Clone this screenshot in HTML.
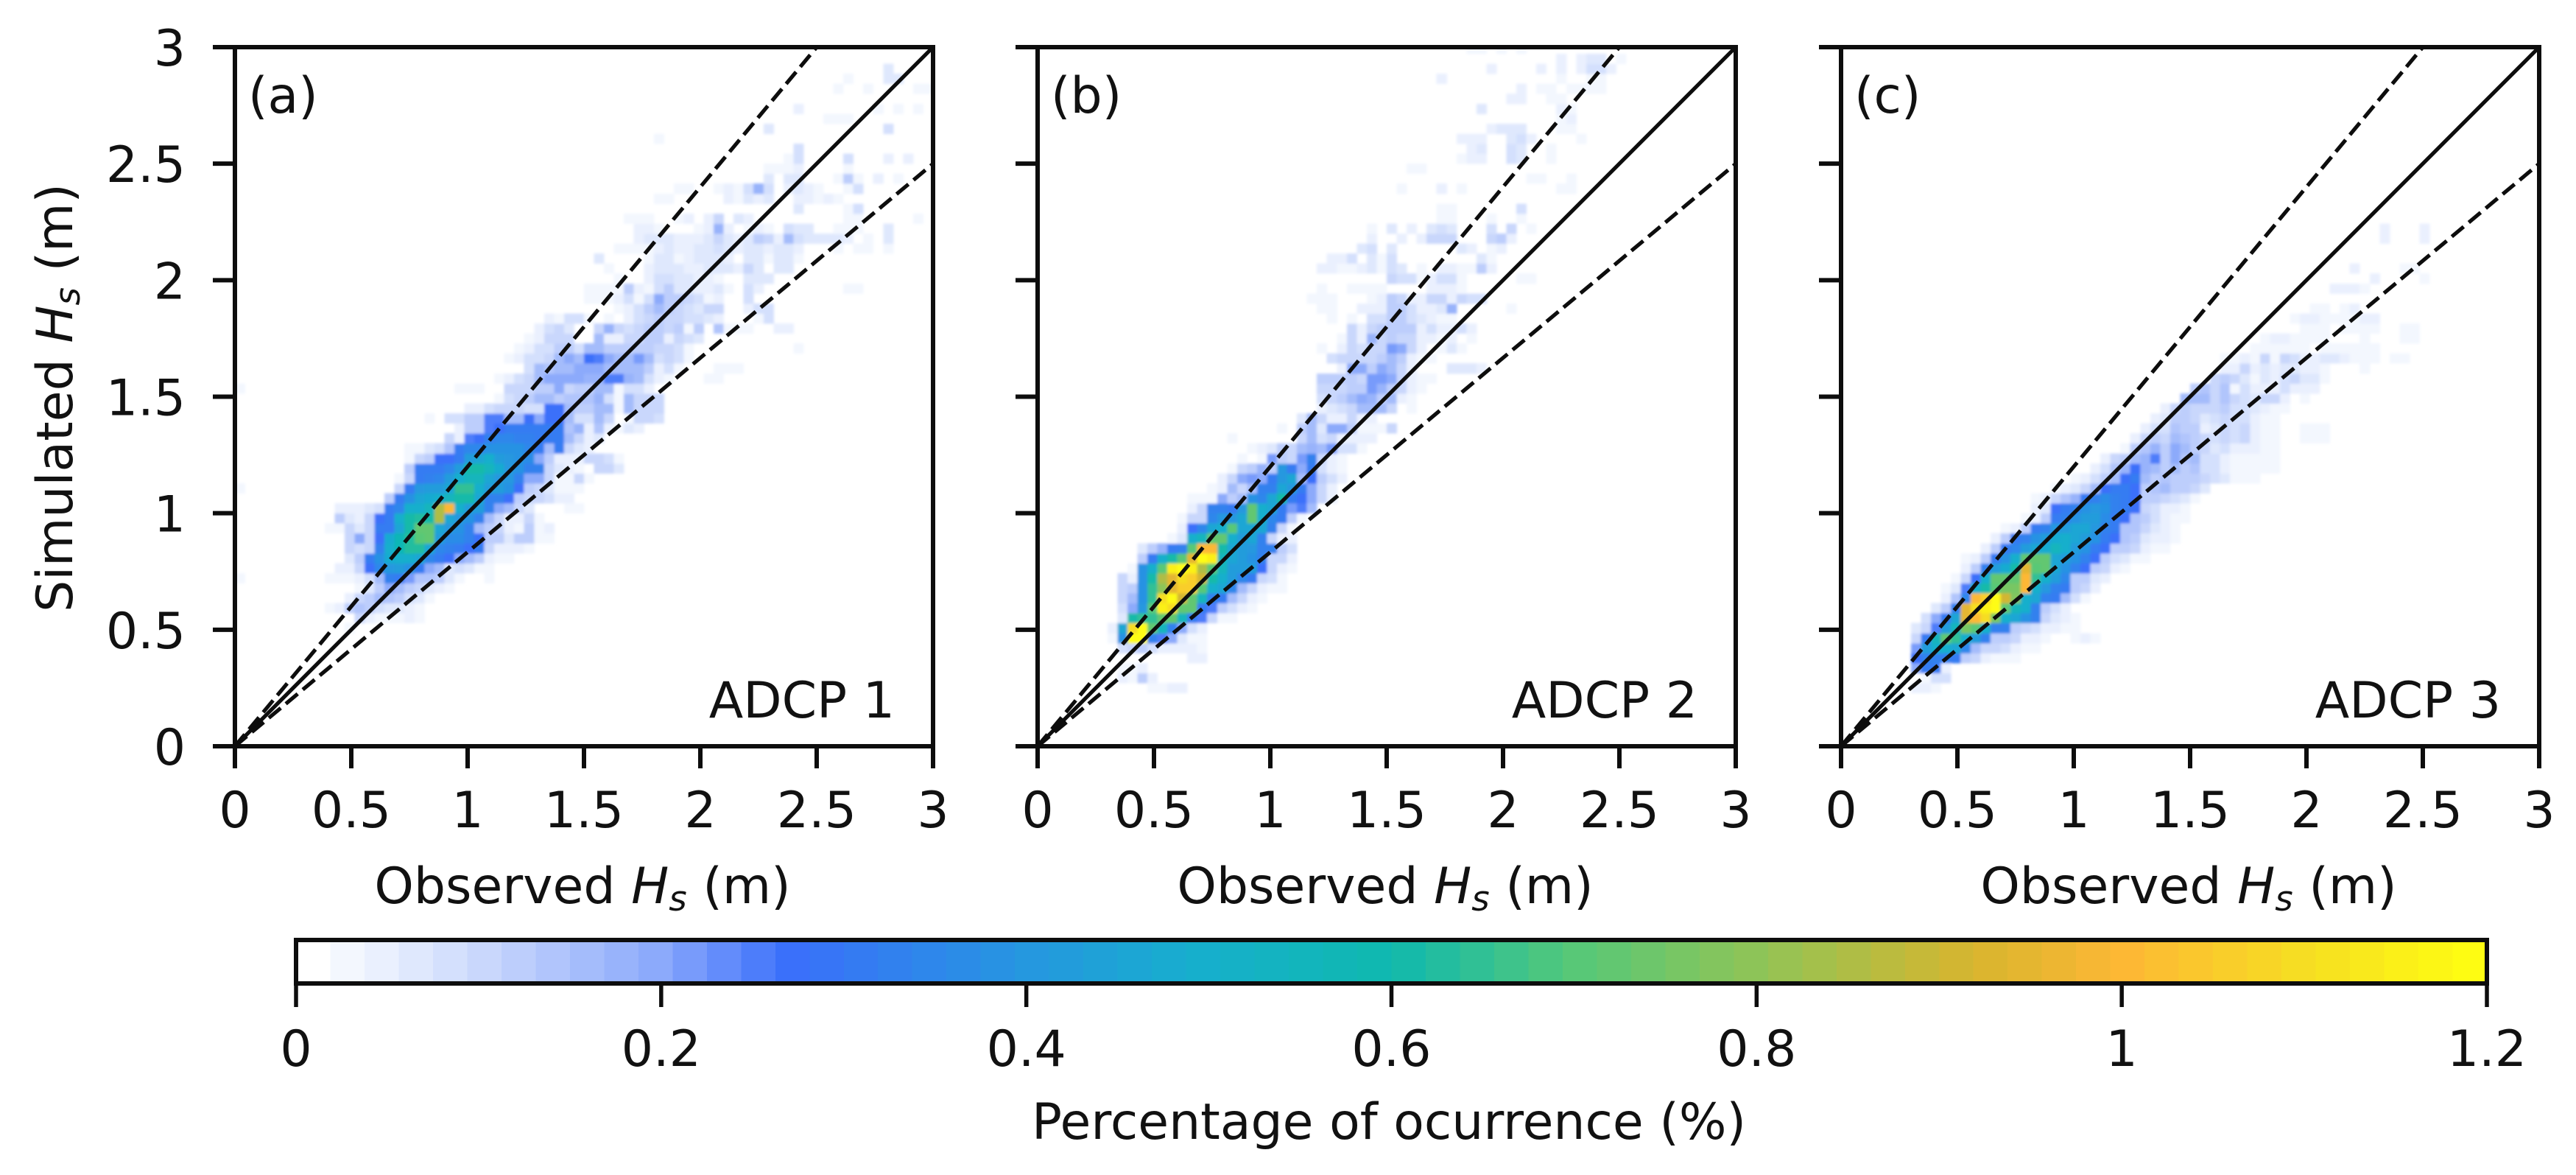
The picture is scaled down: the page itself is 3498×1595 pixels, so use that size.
<!DOCTYPE html>
<html lang="en">
<head>
<meta charset="utf-8">
<title>Observed vs simulated Hs at three ADCPs</title>
<style>
html,body{margin:0;padding:0;background:#fff;}
svg{display:block;}
text{font-family:"DejaVu Sans","Liberation Sans",sans-serif;fill:#111;}
</style>
</head>
<body>
<svg id="figure" xmlns="http://www.w3.org/2000/svg" width="3498" height="1595" viewBox="0 0 3498 1595">
<defs><filter id="softCells" x="-5%" y="-5%" width="110%" height="110%"><feGaussianBlur stdDeviation="1.8"/></filter></defs>
</svg>
<script>
// ---------- chart values ----------
const axisMax = 3;
const binCount = 70;
const axisTicks = [0, 0.5, 1, 1.5, 2, 2.5, 3];
const axisTickLabels = ['0', '0.5', '1', '1.5', '2', '2.5', '3'];
const colorbarTicks = [0, 0.2, 0.4, 0.6, 0.8, 1, 1.2];
const colorbarTickLabels = ['0', '0.2', '0.4', '0.6', '0.8', '1', '1.2'];
const colorbarMax = 1.2;
const colorLevels = 64;
const referenceSlopes = [1, 1.2, 0.8333];
const panelTags = ['(a)', '(b)', '(c)'];
const panelNames = ['ADCP 1', 'ADCP 2', 'ADCP 3'];
const colorStopValues = [0, 0.04, 0.1, 0.2, 0.27, 0.4, 0.5, 0.6, 0.7, 0.8, 0.92, 1.0, 1.1, 1.2];
const colorStopHexes = ['#ffffff', '#eef3fe', '#cbd9fc', '#8aa8fb', '#3a6ffa', '#2597e0', '#16b0cb', '#0fb9ae', '#56c878', '#8fc457', '#d8b52e', '#fdb735', '#f6de22', '#ffff10'];

// Each row: observed-bin pairs for one simulated-bin row -> [rowBin, colBin, percent, colBin, percent, ...]
const adcp1Rows = [
[11,11,.03],
[12,12,.1,13,.05,14,.02,15,.02,16,.03,17,.04,18,.02],
[13,9,.03,10,.05,11,.12,12,.14,13,.12,14,.08,15,.07,16,.07,17,.05,18,.03],
[14,11,.05,12,.1,13,.12,14,.16,15,.14,16,.12,17,.08,18,.06,19,.03],
[15,12,.03,13,.06,14,.12,15,.2,16,.16,17,.12,18,.1,19,.06,20,.05,21,.02],
[16,0,.02,9,.03,10,.03,11,.02,12,.04,13,.08,14,.15,15,.32,16,.3,17,.22,18,.14,19,.14,20,.12,21,.06,22,.02,25,.03],
[17,10,.05,11,.05,12,.1,13,.28,14,.34,15,.4,16,.42,17,.38,18,.3,19,.2,20,.16,21,.06,22,.08,23,.06,24,.03,25,.02],
[18,11,.06,12,.12,13,.3,14,.38,15,.48,16,.5,17,.5,18,.45,19,.35,20,.3,21,.28,22,.2,23,.16,24,.12,25,.04,26,.03,27,.02],
[19,11,.1,12,.08,13,.1,14,.33,15,.5,16,.58,17,.62,18,.62,19,.45,20,.35,21,.33,22,.3,23,.28,24,.3,25,.1,26,.05,27,.04,28,.05,29,.03],
[20,11,.1,12,.2,13,.1,14,.28,15,.48,16,.58,17,.62,18,.7,19,.72,20,.42,21,.36,22,.36,23,.33,24,.28,25,.12,26,.12,27,.06,28,.12,29,.13,30,.03,31,.03],
[21,9,.02,10,.03,11,.1,12,.06,13,.1,14,.3,15,.3,16,.45,17,.6,18,.72,19,.72,20,.45,21,.4,22,.38,23,.32,24,.15,25,.12,26,.1,27,.05,28,.03,29,.13,30,.02,31,.04],
[22,10,.12,11,.07,12,.04,13,.1,14,.28,15,.3,16,.5,17,.6,18,.62,19,.6,20,.85,21,.45,22,.4,23,.38,24,.32,25,.15,26,.1,27,.05,28,.05,29,.1,30,.02],
[23,10,.05,11,.05,12,.05,13,.06,14,.08,15,.3,16,.35,17,.5,18,.5,19,.55,20,.85,21,1.0,22,.5,23,.42,24,.42,25,.33,26,.2,27,.15,28,.1,29,.06,33,.03,34,.03],
[24,15,.12,16,.3,17,.38,18,.45,19,.48,20,.5,21,.55,22,.6,23,.6,24,.45,25,.33,26,.33,27,.28,28,.13,29,.1,30,.1,31,.08,32,.05,33,.05],
[25,0,.03,16,.1,17,.3,18,.4,19,.42,20,.42,21,.45,22,.65,23,.65,24,.5,25,.42,26,.42,27,.38,28,.28,29,.12,30,.1,31,.07,32,.03,33,.02,34,.02],
[26,16,.03,17,.1,18,.3,19,.33,20,.35,21,.42,22,.5,23,.55,24,.55,25,.45,26,.4,27,.4,28,.33,29,.2,30,.2,31,.1,32,.03,33,.03,34,.1,35,.03],
[27,17,.12,18,.3,19,.3,20,.3,21,.35,22,.42,23,.6,24,.6,25,.55,26,.48,27,.4,28,.38,29,.33,30,.33,31,.1,32,.07,33,.05,34,.03,36,.1,37,.1,38,.06],
[28,17,.03,18,.1,19,.12,20,.28,21,.28,22,.3,23,.42,24,.45,25,.5,26,.42,27,.4,28,.38,29,.36,30,.2,31,.12,32,.05,33,.05,34,.05,35,.1,36,.1,37,.08,38,.03],
[29,17,.02,18,.02,19,.06,20,.08,21,.14,22,.3,23,.35,24,.35,25,.38,26,.38,27,.38,28,.38,29,.35,30,.3,31,.15,32,.3,33,.1,34,.06,35,.04],
[30,21,.1,22,.05,23,.26,24,.28,25,.32,26,.34,27,.34,28,.33,29,.32,30,.3,31,.3,32,.3,33,.15,34,.1,35,.04,36,.06],
[31,22,.05,23,.12,24,.12,25,.25,26,.28,27,.3,28,.3,29,.3,30,.3,31,.3,32,.3,33,.14,34,.18,35,.04,36,.14,37,.04,38,.03,39,.06,40,.04],
[32,19,.03,21,.08,22,.08,23,.12,24,.12,25,.25,26,.25,27,.15,28,.15,29,.27,30,.2,31,.28,32,.28,33,.15,34,.08,35,.08,36,.15,37,.1,39,.02,40,.1,41,.1,42,.08],
[33,23,.04,24,.04,25,.08,26,.1,27,.1,28,.1,29,.08,30,.08,31,.27,32,.27,33,.15,34,.12,35,.12,36,.15,37,.15,38,.03,39,.16,40,.1,41,.1,42,.1],
[34,26,.02,27,.08,28,.1,29,.12,30,.15,31,.15,32,.13,33,.14,34,.14,35,.14,36,.18,37,.08,38,.03,39,.16,40,.1,41,.1,42,.1],
[35,0,.02,22,.02,23,.02,24,.02,27,.1,28,.1,29,.1,30,.12,31,.12,32,.2,33,.1,34,.12,35,.12,36,.15,37,.15,38,.03,39,.08,40,.08,41,.05],
[36,26,.03,27,.05,28,.08,29,.1,30,.15,31,.2,32,.2,33,.2,34,.2,35,.18,36,.18,37,.25,38,.25,39,.18,40,.15,41,.08,42,.04,43,.03,47,.03,48,.03],
[37,29,.08,30,.15,31,.14,32,.15,33,.15,34,.2,35,.2,36,.2,37,.15,38,.15,39,.15,40,.15,41,.12,42,.05,43,.08,44,.03,48,.03,49,.03,50,.03],
[38,27,.03,28,.05,29,.08,30,.08,31,.1,32,.15,33,.2,34,.15,35,.27,36,.25,37,.2,38,.15,39,.15,40,.22,41,.15,42,.08,43,.1,44,.08,45,.02],
[39,28,.03,29,.05,30,.08,31,.08,32,.12,33,.12,34,.08,35,.15,36,.15,37,.12,38,.12,39,.12,40,.12,41,.12,42,.1,43,.1,44,.08,45,.03,56,.03],
[40,29,.03,30,.05,31,.1,32,.1,33,.1,36,.15,37,.05,38,.05,39,.1,40,.1,41,.12,42,.12,43,.05,44,.1,45,.08,46,.06],
[41,30,.05,31,.08,32,.1,33,.06,36,.1,37,.18,38,.1,39,.08,40,.1,41,.12,42,.12,43,.1,44,.12,45,.03,46,.12,48,.14,49,.03,50,.03,51,.02,54,.04,55,.05],
[42,31,.05,32,.03,33,.08,34,.08,35,.03,37,.03,39,.04,40,.08,41,.1,42,.12,43,.1,44,.1,45,.08,46,.08,47,.06,48,.05,52,.03,53,.08],
[43,38,.03,39,.05,40,.08,41,.12,42,.15,43,.12,44,.1,45,.08,46,.06,47,.1,48,.1,51,.05,52,.08,53,.08],
[44,35,.03,36,.03,37,.03,38,.05,39,.08,40,.03,41,.08,42,.2,43,.12,44,.12,45,.1,46,.08,47,.03,48,.05,51,.08],
[45,35,.03,36,.03,37,.03,38,.03,39,.12,40,.05,41,.03,42,.08,43,.12,44,.07,45,.06,46,.04,47,.04,48,.06,49,.03,51,.08,52,.04,61,.02,62,.03],
[46,38,.02,41,.04,42,.08,43,.08,44,.07,45,.06,46,.05,47,.04,48,.03,51,.07,52,.07,53,.06],
[47,37,.02,41,.05,42,.06,43,.07,44,.07,45,.05,46,.04,47,.06,48,.07,49,.07,50,.05,51,.1,52,.07,54,.07,55,.07],
[48,36,.06,41,.03,42,.07,43,.07,44,.03,45,.05,46,.07,47,.07,48,.07,49,.05,51,.06,52,.07,53,.03,54,.07,55,.07,56,.03],
[49,38,.03,39,.03,40,.03,41,.03,42,.04,43,.07,44,.04,45,.04,46,.06,47,.07,48,.08,49,.06,50,.05,51,.06,52,.07,53,.05,54,.07,55,.07,56,.05,60,.03,62,.03,63,.03,65,.03],
[50,40,.05,41,.07,42,.07,43,.06,44,.05,45,.04,46,.04,47,.06,48,.1,49,.06,50,.05,51,.06,52,.12,53,.1,54,.04,55,.15,56,.08,57,.07,58,.06,59,.06,60,.06,61,.04,63,.03,65,.06],
[51,40,.05,41,.05,42,.03,46,.03,47,.05,48,.18,49,.05,51,.03,52,.04,53,.03,55,.08,56,.07,57,.06,60,.02,61,.03,62,.03,65,.06],
[52,39,.03,40,.03,41,.03,44,.03,45,.05,47,.04,48,.1,50,.06,51,.05,61,.02,62,.03,68,.03],
[53,56,.07,61,.03,62,.08],
[54,42,.02,43,.03,49,.04,50,.03,51,.07,52,.05,53,.07,56,.04,57,.05,58,.03,59,.05,60,.03],
[55,44,.03,45,.03,48,.02,49,.04,50,.03,51,.08,52,.18,53,.08,55,.05,56,.06,57,.05,58,.03,61,.03,62,.08],
[56,53,.07,55,.06,56,.07,60,.03,61,.13,62,.02,64,.04,66,.03],
[57,53,.03,54,.03,55,.03,56,.05,61,.03],
[58,55,.03,56,.08,61,.08,65,.04,67,.04],
[59,56,.08],
[60,42,.03],
[61,53,.06,65,.08],
[62,59,.02,60,.03,61,.03],
[63,56,.05,64,.03,66,.03,68,.03],
[65,60,.03,63,.03,68,.03,69,.03],
[66,61,.03,65,.06,66,.06],
[67,65,.07]
];

const adcp2Rows = [
[5,11,.03,12,.03,13,.04,14,.05],
[6,8,.05,9,.03,10,.12,11,.05],
[7,8,.03,9,.03,10,.04],
[8,15,.05,16,.05],
[9,8,.08,9,.1,10,.12,11,.08,12,.05,13,.05,14,.05,15,.04,16,.03],
[10,7,.03,8,.38,9,1.2,10,1.2,11,.33,12,.25,13,.2,14,.06,15,.03,16,.02],
[11,7,.05,8,.45,9,1.1,10,1.2,11,.72,12,.55,13,.33,14,.2,15,.08,16,.04],
[12,8,.06,9,.6,10,.65,11,.65,12,.72,13,.72,14,.55,15,.3,16,.25,17,.1,18,.03,19,.02],
[13,8,.08,9,.2,10,.4,11,.7,12,1.15,13,1.1,14,.72,15,.72,16,.3,17,.25,18,.12,19,.08,20,.05,21,.02],
[14,8,.1,9,.15,10,.38,11,.65,12,1.1,13,1.2,14,.9,15,.72,16,.55,17,.32,18,.3,19,.15,20,.1,21,.05,22,.03],
[15,8,.1,9,.12,10,.38,11,.65,12,.8,13,.95,14,1.05,15,1.05,16,.7,17,.5,18,.45,19,.35,20,.15,21,.1,22,.05,23,.03,24,.02],
[16,8,.1,9,.05,10,.38,11,.6,12,.85,13,.95,14,1.1,15,1.05,16,.9,17,.6,18,.5,19,.42,20,.35,21,.3,22,.1,23,.08,24,.03],
[17,9,.02,10,.38,11,.5,12,.7,13,1.15,14,1.2,15,1.15,16,.85,17,.7,18,.55,19,.42,20,.42,21,.42,22,.28,23,.1,24,.04,25,.03],
[18,10,.12,11,.3,12,.5,13,.6,14,.7,15,.95,16,1.2,17,1.15,18,.55,19,.45,20,.42,21,.38,22,.32,23,.1,24,.1,25,.05],
[19,10,.06,11,.12,12,.18,13,.3,14,.32,15,.7,16,1.0,17,1.0,18,.6,19,.45,20,.42,21,.4,22,.33,23,.33,24,.12,25,.08],
[20,13,.03,14,.06,15,.5,16,.55,17,.72,18,.72,19,.5,20,.42,21,.45,22,.33,23,.1,24,.05,25,.04],
[21,14,.04,15,.28,16,.35,17,.45,18,.5,19,.7,20,.45,21,.45,22,.45,23,.33,24,.1,25,.03],
[22,14,.02,15,.1,16,.1,17,.35,18,.4,19,.4,20,.45,21,.72,22,.5,23,.35,24,.3,25,.12,26,.03],
[23,15,.05,16,.1,17,.32,18,.33,19,.3,20,.4,21,.72,22,.5,23,.45,24,.3,25,.22,26,.25,27,.15],
[24,15,.03,16,.03,17,.03,18,.2,19,.13,20,.15,21,.38,22,.35,23,.45,24,.6,25,.3,26,.28,27,.2,28,.1,29,.05],
[25,17,.02,18,.05,19,.15,20,.1,21,.15,22,.33,23,.33,24,.45,25,.4,26,.3,27,.2,28,.1,29,.05],
[26,18,.05,19,.1,20,.2,21,.22,22,.2,23,.3,24,.4,25,.45,26,.15,27,.28,28,.12,29,.08,30,.04],
[27,19,.03,20,.1,21,.12,22,.18,23,.12,24,.4,25,.3,26,.2,27,.3,28,.08,29,.05,30,.03],
[28,20,.03,22,.03,23,.22,24,.12,25,.1,26,.22,27,.33,28,.1,29,.04,30,.03],
[29,21,.03,22,.05,23,.06,24,.12,25,.1,26,.15,27,.18,28,.15,29,.22,30,.08,31,.08,32,.03],
[30,19,.03,26,.1,27,.15,28,.08,29,.1,30,.04,31,.05,32,.04,33,.05],
[31,24,.02,26,.12,27,.15,28,.06,29,.2,30,.2,31,.12,32,.03,33,.03,34,.03,35,.1],
[32,26,.06,27,.15,28,.1,29,.05,30,.05,31,.1,32,.05,33,.05],
[33,28,.05,29,.06,30,.08,31,.1,32,.15,33,.15,34,.15,35,.1,37,.03],
[34,28,.08,29,.1,30,.12,31,.15,32,.2,33,.18,34,.12,35,.15,36,.05,37,.03],
[35,28,.1,29,.1,30,.1,31,.12,32,.12,33,.22,34,.17,35,.13,36,.1,37,.05,38,.03],
[36,28,.12,29,.12,30,.12,31,.12,32,.1,33,.22,34,.22,35,.2,36,.1,37,.05,38,.03,39,.02],
[37,30,.05,31,.2,32,.2,33,.12,34,.2,35,.15,36,.1,37,.05,41,.06,42,.06,43,.06,44,.05],
[38,29,.08,30,.1,31,.1,32,.1,33,.1,34,.13,35,.15,36,.12,37,.05,38,.03,39,.02],
[39,28,.02,30,.05,31,.1,32,.08,33,.1,34,.1,35,.22,36,.2,37,.1,38,.04,40,.03,41,.06,42,.03],
[40,30,.03,31,.1,32,.05,33,.18,34,.1,35,.12,36,.1,37,.1,38,.05,39,.04,40,.03,41,.04,43,.03],
[41,31,.1,32,.05,33,.1,34,.12,35,.13,36,.13,37,.12,38,.05,39,.08,40,.05,41,.05,42,.08,43,.05],
[42,29,.03,31,.03,33,.08,34,.08,35,.12,36,.12,37,.08,38,.06,39,.04,40,.03,41,.02],
[43,28,.03,29,.03,32,.05,33,.04,34,.05,35,.13,36,.12,37,.08,38,.05,39,.05,40,.06,41,.18,47,.03],
[44,27,.02,28,.03,29,.03,33,.02,34,.05,35,.12,36,.1,37,.05,38,.05,39,.1,40,.1,41,.05,42,.1,43,.08,44,.08],
[45,28,.02,31,.02,32,.02,33,.02,34,.02,39,.04,40,.04,41,.04,42,.02],
[46,35,.1,36,.08,37,.08,38,.03,39,.04,40,.08,41,.08,42,.03,48,.03,49,.03],
[47,28,.04,29,.04,30,.03,31,.03,32,.05,33,.06,34,.03,35,.08,36,.06,38,.02,40,.05,41,.05,42,.02,43,.02,44,.12,45,.04],
[48,29,.04,30,.04,31,.08,33,.06,34,.02,35,.08,44,.06,45,.03],
[49,32,.06,33,.08,35,.06,42,.06,43,.05,45,.03,46,.04],
[50,33,.04,36,.05,38,.05,39,.1,40,.1,41,.1,45,.1,46,.12,47,.05],
[51,33,.03,35,.06,37,.04,39,.06,40,.08,41,.06,45,.08,47,.1,49,.02],
[52,40,.03,41,.03,45,.03,48,.02],
[53,40,.03,41,.03,48,.08],
[55,36,.03,40,.05,42,.02,52,.03,53,.02],
[56,49,.02,50,.03,53,.03],
[57,37,.03,38,.03,45,.01],
[58,42,.02,43,.05,44,.05,47,.08,48,.06,51,.03],
[59,43,.04,44,.06,47,.08,48,.06,51,.03],
[60,42,.05,43,.05,44,.04,47,.07,48,.08,49,.05,54,.03],
[61,45,.05,46,.07,47,.07,48,.06,52,.02,53,.03],
[62,52,.02,53,.04],
[63,44,.07,52,.04,53,.03],
[64,47,.05,48,.05,51,.03,52,.03],
[65,48,.05,50,.02,51,.03,53,.02,54,.03,55,.02,56,.03],
[66,40,.04,52,.03,55,.02,56,.02],
[67,45,.04,50,.04,52,.05,54,.05,55,.08,56,.08,57,.05],
[68,52,.05,54,.05,55,.07,56,.06,58,.03],
[69,43,.02,44,.02,46,.02,48,.02]
];

const adcp3Rows = [
[5,7,.05,8,.05,9,.03],
[6,8,.03,9,.08,10,.08],
[7,7,.2,8,.3,9,.3,10,.05],
[8,7,.28,8,.33,9,.33,10,.33,11,.3,12,.12,13,.1,14,.05,15,.03,16,.02,17,.03],
[9,7,.22,8,.42,9,.5,10,.5,11,.45,12,.35,13,.15,14,.1,15,.1,16,.08,17,.05,18,.03,19,.02],
[10,7,.1,8,.3,9,.55,10,.72,11,.65,12,.5,13,.42,14,.33,15,.12,16,.12,17,.1,18,.05,19,.05,20,.03,23,.02,24,.05,25,.03],
[11,7,.06,8,.1,9,.25,10,.42,11,.55,12,.75,13,.7,14,.5,15,.33,16,.33,17,.12,18,.1,19,.08,20,.05,21,.04,22,.03,23,.03],
[12,8,.08,9,.2,10,.3,11,.45,12,.95,13,1.0,14,1.1,15,.75,16,.5,17,.45,18,.38,19,.33,20,.1,21,.06,22,.05,23,.03],
[13,9,.06,10,.12,11,.32,12,.95,13,1.1,14,1.15,15,1.2,16,.72,17,.55,18,.5,19,.32,20,.12,21,.08,22,.04],
[14,10,.05,11,.14,12,.35,13,1.0,14,1.05,15,1.2,16,.9,17,.78,18,.5,19,.45,20,.32,21,.3,22,.15,23,.08,24,.03],
[15,10,.02,11,.06,12,.25,13,.5,14,.6,15,.7,16,.75,17,.75,18,1.0,19,.5,20,.4,21,.33,22,.3,23,.12,24,.1,25,.05],
[16,11,.03,12,.1,13,.28,14,.5,15,.72,16,.72,17,.72,18,1.0,19,.65,20,.5,21,.42,22,.35,23,.12,24,.12,25,.07,26,.05],
[17,12,.05,13,.12,14,.32,15,.42,16,.48,17,.6,18,.95,19,.7,20,.72,21,.45,22,.38,23,.32,24,.28,25,.12,26,.1,27,.05,28,.03],
[18,12,.03,13,.05,14,.12,15,.3,16,.38,17,.5,18,.72,19,.72,20,.72,21,.45,22,.42,23,.38,24,.33,25,.28,26,.12,27,.08,28,.06,29,.03,30,.02],
[19,14,.05,15,.12,16,.3,17,.35,18,.42,19,.45,20,.48,21,.55,22,.5,23,.42,24,.38,25,.3,26,.28,27,.12,28,.12,29,.1,30,.05,31,.03,32,.02],
[20,15,.05,16,.12,17,.3,18,.33,19,.38,20,.42,21,.48,22,.5,23,.45,24,.42,25,.38,26,.3,27,.28,28,.14,29,.12,30,.06,31,.05,32,.04,33,.03],
[21,16,.02,17,.05,18,.12,19,.3,20,.33,21,.4,22,.42,23,.45,24,.45,25,.4,26,.33,27,.3,28,.14,29,.14,30,.1,31,.06,32,.04,33,.02],
[22,17,.01,18,.03,19,.05,20,.12,21,.3,22,.33,23,.38,24,.42,25,.42,26,.36,27,.3,28,.28,29,.14,30,.12,31,.08,32,.05,33,.03,34,.02],
[23,19,.04,20,.06,21,.28,22,.3,23,.33,24,.38,25,.4,26,.38,27,.33,28,.3,29,.28,30,.1,31,.08,32,.05,33,.04,34,.03],
[24,19,.02,20,.05,21,.1,22,.14,23,.18,24,.3,25,.33,26,.36,27,.33,28,.3,29,.28,30,.12,31,.12,32,.1,33,.08,34,.06,35,.03],
[25,21,.03,22,.05,23,.07,24,.1,25,.15,26,.28,27,.3,28,.3,29,.28,30,.13,31,.14,32,.15,33,.12,34,.12,35,.1,36,.06],
[26,23,.03,24,.05,25,.08,26,.12,27,.15,28,.28,29,.3,30,.15,31,.12,32,.14,33,.13,34,.13,35,.12,36,.1,37,.08,38,.07,39,.03,40,.02,41,.02],
[27,25,.04,26,.08,27,.14,28,.18,29,.27,30,.18,31,.15,32,.13,33,.15,34,.13,35,.14,36,.08,37,.08,38,.04,39,.02,40,.02,41,.02,42,.02,43,.02],
[28,26,.05,27,.1,28,.12,29,.15,30,.18,31,.25,32,.12,33,.2,34,.14,35,.15,36,.08,37,.08,38,.04,39,.03,40,.03,41,.03,42,.02,43,.02],
[29,28,.03,29,.12,30,.14,31,.18,32,.12,33,.2,34,.15,35,.12,36,.1,37,.06,38,.08,39,.04,40,.04,41,.04,42,.03,43,.02],
[30,29,.05,30,.1,31,.13,32,.1,33,.15,34,.14,35,.13,36,.1,37,.08,38,.1,39,.08,40,.1,41,.04,42,.03,43,.03,46,.03,47,.03,48,.03],
[31,30,.05,31,.08,32,.08,33,.14,34,.13,35,.12,36,.04,37,.06,38,.1,39,.08,40,.1,41,.04,42,.03,43,.02,46,.02,47,.03,48,.02],
[32,31,.05,32,.06,33,.12,34,.12,35,.1,36,.06,37,.08,38,.1,39,.08,40,.08,41,.05,42,.02,43,.02],
[33,32,.04,33,.1,34,.12,35,.1,36,.1,37,.1,38,.12,39,.08,40,.08,41,.06,42,.04,43,.02,44,.02],
[34,34,.15,35,.15,36,.15,37,.1,38,.14,39,.1,40,.08,41,.06,42,.1,43,.1,44,.04,46,.02],
[35,35,.12,36,.14,37,.1,38,.14,39,.03,40,.08,41,.05,42,.05,43,.05,44,.08,45,.05,46,.05,47,.05],
[36,37,.1,38,.12,39,.1,40,.07,41,.03,42,.06,43,.05,44,.08,45,.1,46,.06,47,.06,48,.03],
[37,38,.05,39,.05,40,.1,41,.04,42,.07,43,.04,44,.06,45,.06,46,.05,47,.05,48,.03,52,.02],
[38,38,.03,39,.03,40,.04,41,.03,42,.1,43,.03,44,.1,45,.08,46,.04,47,.04,48,.06,49,.06,50,.04,51,.03,52,.03,53,.03,55,.02,56,.02],
[39,41,.02,42,.03,43,.03,44,.03,45,.03,46,.03,48,.03,49,.03,50,.03,51,.03,52,.03,53,.03],
[40,42,.03,43,.05,44,.05,45,.03,46,.02,47,.02,48,.02,52,.02,56,.03,57,.03],
[41,46,.03,47,.03,48,.02,50,.02,51,.02,52,.03,53,.03,56,.03,57,.03],
[42,45,.03,46,.04,47,.04,48,.03,49,.02,50,.03,51,.03,52,.04,53,.05],
[43,47,.02,48,.03,50,.03,51,.04],
[45,49,.05,50,.05,51,.05,52,.03],
[46,53,.05,58,.03],
[47,51,.05,56,.02,57,.02],
[50,54,.05,58,.04],
[51,54,.05,58,.04]
];
const panelRows = [adcp1Rows, adcp2Rows, adcp3Rows];

// ---------- helpers ----------
const NS = 'http://www.w3.org/2000/svg';
const fig = document.getElementById('figure');
function mk(tag, attrs, parent) {
  const el = document.createElementNS(NS, tag);
  for (const k in attrs) el.setAttribute(k, attrs[k]);
  (parent || fig).appendChild(el);
  return el;
}
function hexToRgb(h) { return [1, 3, 5].map(i => parseInt(h.substr(i, 2), 16)); }
function colorFor(v) {
  const q = Math.min(colorLevels - 1, Math.floor(v / colorbarMax * colorLevels));
  const u = q === 0 ? 0 : (q + 0.5) / colorLevels * colorbarMax;
  let i = 0;
  while (i < colorStopValues.length - 2 && u > colorStopValues[i + 1]) i++;
  const t = Math.min(1, Math.max(0, (u - colorStopValues[i]) / (colorStopValues[i + 1] - colorStopValues[i])));
  const a = hexToRgb(colorStopHexes[i]), b = hexToRgb(colorStopHexes[i + 1]);
  return 'rgb(' + a.map((c, j) => Math.round(c + (b[j] - c) * t)).join(',') + ')';
}

const frameTop = 64, frameBottom = 1013;
const frameLefts = [319, 1409, 2500];
const frameSize = 948;
const textSize = 68;
const inkColor = '#0d0d0d';

function addHsLabel(parent, prefix, attrs) {
  const t = mk('text', attrs, parent);
  t.appendChild(document.createTextNode(prefix + ' '));
  const h = mk('tspan', {'font-style': 'italic'}, t);
  h.textContent = 'H';
  const s = mk('tspan', {'font-style': 'italic', 'font-size': 47, dy: 10}, t);
  s.textContent = 's';
  const m = mk('tspan', {dy: -10}, t);
  m.textContent = ' (m)';
  return t;
}

// ---------- panels ----------
panelNames.forEach((name, p) => {
  const left = frameLefts[p];
  const xScale = v => left + v / axisMax * frameSize;
  const yScale = v => frameBottom - v / axisMax * (frameBottom - frameTop);
  const binW = axisMax / binCount;
  const yBinOrigin = 0.0145;

  const g = mk('g', {});
  
  

  const clipId = 'clip' + p;
  const clip = mk('clipPath', {id: clipId}, g);
  mk('rect', {x: left, y: frameTop, width: frameSize, height: frameBottom - frameTop}, clip);

  const clipWrap = mk('g', {'clip-path': 'url(#' + clipId + ')'}, g);
  const cells = mk('g', {filter: 'url(#softCells)', 'shape-rendering': 'crispEdges'}, clipWrap);
  
  
  panelRows[p].forEach(row => {
    const r = row[0];
    for (let i = 1; i < row.length; i += 2) {
      const c = row[i], v = row[i + 1];
      const x0 = xScale(c * binW), x1 = xScale((c + 1) * binW);
      const y1 = yScale(yBinOrigin + r * binW), y0 = yScale(yBinOrigin + (r + 1) * binW);
      const cell = mk('rect', {x: x0, y: y0, width: x1 - x0 + 0.5, height: y1 - y0 + 0.5, fill: colorFor(v)}, cells);
      
      
    }
  });

  referenceSlopes.forEach((s, i) => {
    const line = mk('line', {
      x1: xScale(0), y1: yScale(0), x2: xScale(axisMax), y2: yScale(axisMax * s),
      stroke: inkColor, 'stroke-width': 5.2, 'clip-path': 'url(#' + clipId + ')'
    }, g);
    if (i > 0) line.setAttribute('stroke-dasharray', '21 9');
    
    
  });

  const frame = mk('rect', {x: left, y: frameTop, width: frameSize, height: frameBottom - frameTop, fill: 'none', stroke: inkColor, 'stroke-width': 6}, g);
  
  

  axisTicks.forEach((v, i) => {
    const xt = mk('line', {x1: xScale(v), x2: xScale(v), y1: frameBottom, y2: frameBottom + 30, stroke: inkColor, 'stroke-width': 6}, g);
    
    
    const xl = mk('text', {x: xScale(v), y: 1123, 'text-anchor': 'middle', 'font-size': textSize}, g);
    xl.textContent = axisTickLabels[i];
    
    
    const yt = mk('line', {x1: left - 30, x2: left, y1: yScale(v), y2: yScale(v), stroke: inkColor, 'stroke-width': 6}, g);
    
    
    if (p === 0) {
      const yl = mk('text', {x: 252, y: yScale(v) + 25, 'text-anchor': 'end', 'font-size': textSize}, g);
      yl.textContent = axisTickLabels[i];
      
      
    }
  });

  const tag = mk('text', {x: left + 18, y: 153, 'font-size': textSize}, g);
  tag.textContent = panelTags[p];
  
  

  const nm = mk('text', {x: left + frameSize - 52, y: 974, 'text-anchor': 'end', 'font-size': textSize}, g);
  nm.textContent = name;
  
  

  const xlab = addHsLabel(g, 'Observed', {x: left + frameSize / 2 - 2, y: 1226, 'text-anchor': 'middle', 'font-size': textSize});
  
  
});

const ylab = addHsLabel(fig, 'Simulated', {transform: 'translate(98 540) rotate(-90)', x: 0, y: 0, 'text-anchor': 'middle', 'font-size': textSize});



// ---------- colorbar ----------
const cbLeft = 402, cbRight = 3377, cbTop = 1276, cbBottom = 1335;
const cbScale = v => cbLeft + v / colorbarMax * (cbRight - cbLeft);
const cb = mk('g', {});


const cbCells = mk('g', {'shape-rendering': 'crispEdges'}, cb);
for (let i = 0; i < colorLevels; i++) {
  const a = i / colorLevels * colorbarMax, b = (i + 1) / colorLevels * colorbarMax;
  const level = mk('rect', {x: cbScale(a), y: cbTop, width: cbScale(b) - cbScale(a) + 0.5, height: cbBottom - cbTop, fill: colorFor((a + b) / 2)}, cbCells);
  
  
}
const cbFrame = mk('rect', {x: cbLeft, y: cbTop, width: cbRight - cbLeft, height: cbBottom - cbTop, fill: 'none', stroke: inkColor, 'stroke-width': 6}, cb);


colorbarTicks.forEach((v, i) => {
  const t = mk('line', {x1: cbScale(v), x2: cbScale(v), y1: cbBottom, y2: cbBottom + 32, stroke: inkColor, 'stroke-width': 5.5}, cb);
  
  
  const l = mk('text', {x: cbScale(v), y: 1447, 'text-anchor': 'middle', 'font-size': textSize}, cb);
  l.textContent = colorbarTickLabels[i];
  
  
});
const cbTitle = mk('text', {x: 1886, y: 1546, 'text-anchor': 'middle', 'font-size': textSize}, cb);
cbTitle.textContent = 'Percentage of ocurrence (%)';


</script>
</body>
</html>
